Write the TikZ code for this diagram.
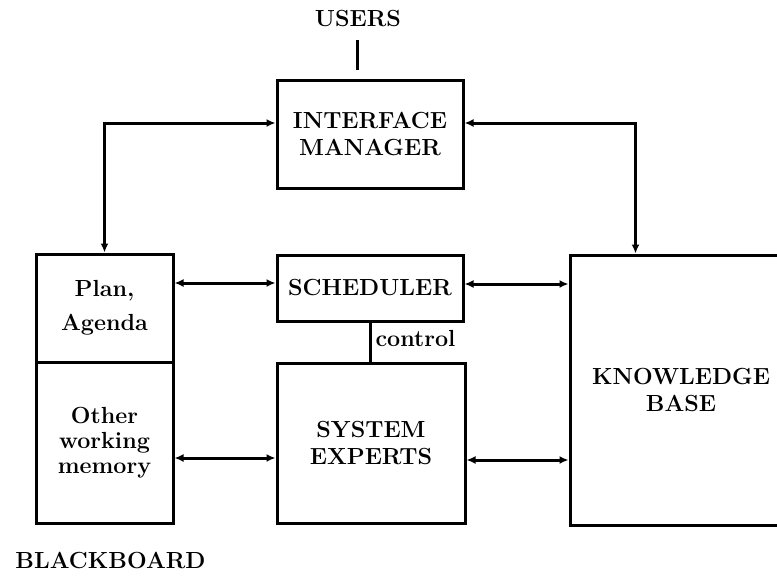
\documentclass[tikz,border=0pt]{standalone}
\usetikzlibrary{arrows.meta}
\begin{document}
\begin{tikzpicture}[x=1pt,y=-1pt,
  line width=3pt,
  txt/.style={font=\bfseries\fontsize{23.3}{27}\selectfont, align=center, inner sep=0pt},
  box/.style={draw, txt, minimum width=#1, line join=miter},
  dbl/.style={{Latex[length=9pt,width=8pt]}-{Latex[length=9pt,width=8pt]}},
]
\path[use as bounding box, clip] (0,0) rectangle (777,576);
\fill[white] (0,0) rectangle (777,576);

% nodes
\node[txt] (users) at (358,19) {USERS};
\coordinate (u1) at (357,40);
\coordinate (u2) at (357,70);

\node[box=186pt, minimum height=108pt] (im) at (370,134) {INTERFACE\\MANAGER};
\node[box=137pt, minimum height=108pt, font=\bfseries\fontsize{23.3}{34}\selectfont] (plan) at (104.5,308) {Plan,\\Agenda};
\node[box=137pt, minimum height=161pt, font=\bfseries\fontsize{23.3}{25}\selectfont] (owm) at (104.5,442.5) {Other\\working\\memory};
\node[box=186pt, minimum height=66pt] (sched) at (370,288) {SCHEDULER};
\node[box=188pt, minimum height=160pt] (se) at (371,443) {SYSTEM\\EXPERTS};
\node[box=222pt, minimum height=270pt] (kb) at (681,390) {KNOWLEDGE\\BASE};
\node[txt, anchor=base west] (ctl) at (374,346) {control};
\node[txt, anchor=base west] (bb) at (14,568) {BLACKBOARD};

% connectors
\draw (u1) -- (u2);
\draw (sched.south -| 370,0) -- (se.north -| 370,0);
\draw[dbl] ([yshift=11pt]im.west) -| (plan.north);
\draw[dbl] ([yshift=11pt]im.east) -| ([xshift=67pt]kb.north west);
\draw[dbl] (plan.east |- 0,283) -- (sched.west |- 0,283);
\draw[dbl] (sched.east |- 0,284) -- (kb.west |- 0,284);
\draw[dbl] (owm.east |- 0,458) -- (se.west |- 0,458);
\draw[dbl] (se.east |- 0,460) -- (kb.west |- 0,460);
\end{tikzpicture}
\end{document}
